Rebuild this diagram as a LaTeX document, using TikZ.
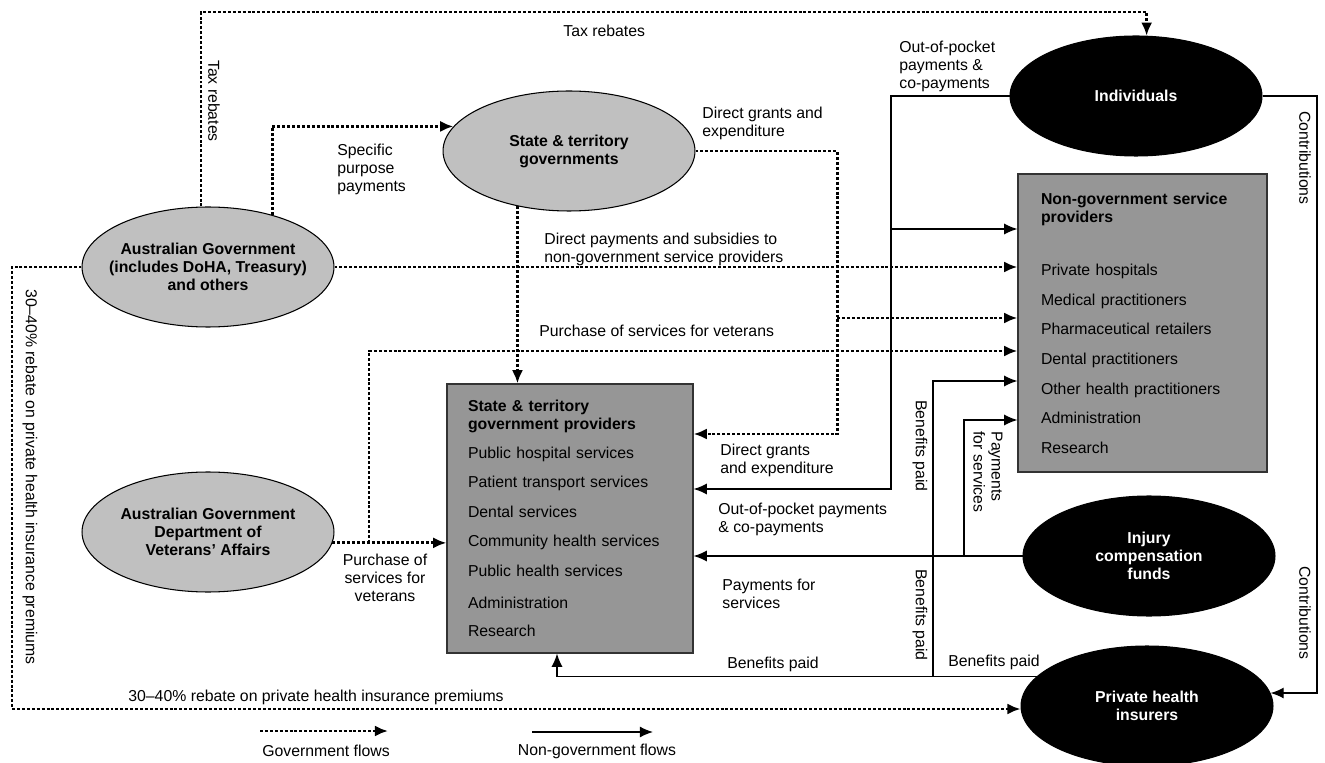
\documentclass[tikz,border=0pt]{standalone}
\usepackage{fontspec}
\setmainfont{Liberation Sans}
\usetikzlibrary{shapes.geometric,arrows.meta}
\definecolor{ovalgray}{RGB}{192,192,192}
\definecolor{boxgray}{RGB}{150,150,150}
\begin{document}
\begin{tikzpicture}[x=0.02cm,y=-0.02cm,
  every path/.style={>={Latex[length=7.5pt,width=6.3pt]}},
  every node/.style={font=\fontsize{9}{10.2}\selectfont},
  gov/.style={->,line width=1.7pt,dash pattern=on 1.7pt off 1.1pt},
  nongov/.style={->,line width=0.8pt},
  oval/.style={ellipse,draw,line width=0.6pt,fill=ovalgray,minimum width=5.04cm,minimum height=2.4cm,inner xsep=-8pt,inner ysep=0pt,align=center,font=\fontsize{9}{10.2}\selectfont\bfseries},
  darkoval/.style={oval,fill=black,text=white},
  provider/.style={draw=black!80,line width=0.7pt,fill=boxgray,align=left,inner ysep=0pt},
  note/.style={align=left,anchor=west,inner sep=0pt},
  sidenote/.style={align=left,rotate=-90,inner sep=0pt}]
\useasboundingbox (0,0) rectangle (1325,763);

\node[oval] (aus-gov) at (208,267) {Australian Government\\(includes DoHA, Treasury)\\and others};
\node[oval] (state-gov) at (569,151) {State \& territory\\governments};
\node[oval] (dva) at (208,532) {Australian Government\\Department of\\Veterans’ Affairs};
\node[darkoval] (individuals) at (1136,96) {Individuals};
\node[darkoval] (injury) at (1149,556) {Injury\\compensation\\funds};
\node[darkoval] (insurers) at (1147,706) {Private health\\insurers};

\node[provider,text width=4.08cm,inner xsep=0.42cm,minimum height=5.38cm] (state-prov) at (570,518.5) {\textbf{State \& territory}\\\textbf{government providers}\\[6.2pt]
  Public hospital services\\[6.6pt] Patient transport services\\[6.6pt] Dental services\\[6.6pt]
  Community health services\\[6.6pt] Public health services\\[7.9pt] Administration\\[6.2pt] Research};
\node[provider,text width=4.06cm,inner xsep=0.46cm,minimum height=5.96cm] (non-gov) at (1142.5,323) {\textbf{Non-government service}\\\textbf{providers}\\[20.4pt]
  Private hospitals\\[6.6pt] Medical practitioners\\[6.6pt] Pharmaceutical retailers\\[6.6pt]
  Dental practitioners\\[6.6pt] Other health practitioners\\[6.6pt] Administration\\[6.6pt] Research};

% government flows
\coordinate (tax-top) at (201,12);
\coordinate (grant-turn) at (837,434);
\coordinate (grant-split) at (837,318);
\coordinate (vet-turn) at (369,351);
\coordinate (rebate-turn) at (12,709);
\draw[gov] (aus-gov.north -| tax-top) -- (tax-top) -| (individuals.80);
\draw[gov] (aus-gov.39) |- (state-gov.168);
\draw[gov] (state-gov.east) -| (grant-turn) -- (state-prov.east |- grant-turn);
\draw[gov] (grant-split) -- (non-gov.west |- grant-split);
\draw[gov] (aus-gov.east) -- (non-gov.west |- aus-gov.east);
\draw[gov] (state-gov.227) -- (state-gov.227 |- state-prov.north);
\draw[gov] (dva.-5) -- (state-prov.west |- dva.-5);
\draw[gov] (dva.-5 -| vet-turn) -- (vet-turn) -- (non-gov.west |- vet-turn);
\draw[gov] (aus-gov.west) -| (rebate-turn) -- (insurers.west |- rebate-turn);

% non-government flows
\coordinate (oop-turn) at (891,489);
\coordinate (oop-split) at (891,229);
\coordinate (contrib-line) at (1317,400);
\coordinate (pay-turn) at (964,420);
\coordinate (benefit-foot) at (557,676);
\coordinate (benefit-turn) at (933,381);
\draw[nongov] (individuals.west) -| (oop-turn) -- (state-prov.east |- oop-turn);
\draw[nongov] (oop-split) -- (non-gov.west |- oop-split);
\draw[nongov] (individuals.east) -| (contrib-line) |- (insurers.6);
\draw[nongov] (injury.west) -- (state-prov.east |- injury.west);
\draw[nongov] (injury.west -| pay-turn) -- (pay-turn) -- (non-gov.west |- pay-turn);
\draw[nongov] (insurers.165) -| (state-prov.south -| benefit-foot);
\draw[nongov] (insurers.165 -| benefit-turn) -- (benefit-turn) -- (non-gov.west |- benefit-turn);

% flow labels
\node[note] (tax-note) at (563,31) {Tax rebates};
\node[sidenote] (tax-side) at (214,101) {Tax rebates};
\node[note] (spp-note) at (337,169) {Specific\\purpose\\payments};
\node[note] (grant-note) at (702,123) {Direct grants and\\expenditure};
\node[note] (oop-note) at (899,66) {Out-of-pocket\\payments \&\\co-payments};
\node[sidenote] (contrib-top) at (1305,158) {Contributions};
\node[sidenote] (contrib-low) at (1305,613) {Contributions};
\node[note] (subsidy-note) at (544,249) {Direct payments and subsidies to\\non-government service providers};
\node[note] (vet-note) at (539,331) {Purchase of services for veterans};
\node[note] (grant-low) at (720,460) {Direct grants\\and expenditure};
\node[note] (oop-low) at (718,519) {Out-of-pocket payments\\\& co-payments};
\node[note] (pay-low) at (722,594) {Payments for\\services};
\node[note,align=center,anchor=center] (vet-low) at (385,578) {Purchase of\\services for\\veterans};
\node[sidenote] (benefit-up) at (920,446) {Benefits paid};
\node[sidenote] (benefit-down) at (920,615) {Benefits paid};
\node[sidenote] (pay-side) at (988,472) {Payments\\for services};
\node[note] (benefit-note) at (727,664) {Benefits paid};
\node[note] (benefit-right) at (948,662) {Benefits paid};
\node[note] (rebate-note) at (128,697) {30--40\% rebate on private health insurance premiums};
\node[sidenote] (rebate-side) at (30,477) {30--40\% rebate on private health insurance premiums};

% key
\coordinate (gov-key-a) at (260,731);
\coordinate (gov-key-b) at (388,731);
\coordinate (ng-key-a) at (532,732);
\coordinate (ng-key-b) at (653,732);
\draw[gov] (gov-key-a) -- (gov-key-b);
\draw[nongov] (ng-key-a) -- (ng-key-b);
\node (gov-key) at (326,751) {Government flows};
\node (ng-key) at (597,751) {Non-government flows};
\end{tikzpicture}
\end{document}
